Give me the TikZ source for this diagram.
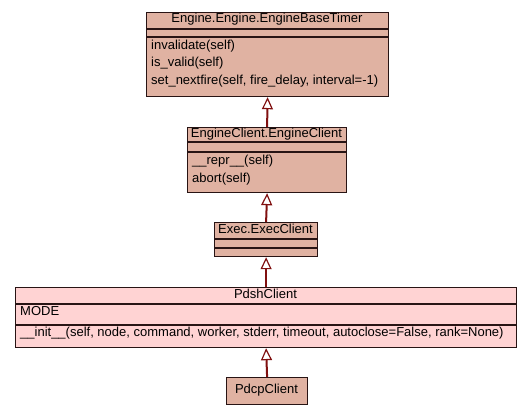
\documentclass[tikz,border=0pt]{standalone}
\usepackage{fontspec}
\setmainfont{Liberation Sans}
\usetikzlibrary{arrows.meta}
\definecolor{boxfill}{RGB}{224,178,162}
\definecolor{pinkfill}{RGB}{255,211,211}
\definecolor{edgecol}{RGB}{128,16,16}
\definecolor{bordercol}{RGB}{40,20,20}
\tikzset{
  cls/.style={draw=bordercol, line width=1.2pt, fill=boxfill, inner sep=0pt, anchor=north west},
  pcls/.style={cls, fill=pinkfill},
  divider/.style={draw=bordercol, line width=1.2pt},
  txt/.style={font=\fontsize{13}{15}\selectfont, inner sep=0pt, anchor=mid west},
  ttl/.style={font=\fontsize{13}{15}\selectfont, inner sep=0pt, anchor=mid},
  inh/.style={draw=edgecol, line width=2pt, -{Triangle[open, length=12pt, width=11pt, line width=1.2pt]}},
}
\begin{document}
\begin{tikzpicture}[x=1pt,y=-1pt]
\useasboundingbox (0,0) rectangle (531,416);
% Box 1
\node[cls, minimum width=242pt, minimum height=84pt] (b1) at (146,12) {};
\draw[divider] (146,29) -- (388,29);
\draw[divider] (146,37) -- (388,37);
\node[ttl] (b1t) at (267,20) {Engine.Engine.EngineBaseTimer};
\node[txt] (b1m1) at (151,47) {invalidate(self)};
\node[txt] (b1m2) at (151,64) {is\_valid(self)};
\node[txt] (b1m3) at (151,82) {set\_nextfire(self, fire\_delay, interval=-1)};
% Box 2
\node[cls, minimum width=159pt, minimum height=65pt] (b2) at (187,127) {};
\draw[divider] (187,142) -- (346,142);
\draw[divider] (187,152) -- (346,152);
\node[ttl] (b2t) at (266.5,134.5) {EngineClient.EngineClient};
\node[txt] (b2m1) at (192,162) {\_\_repr\_\_(self)};
\node[txt] (b2m2) at (192,180) {abort(self)};
% Box 3
\node[cls, minimum width=103pt, minimum height=34pt] (b3) at (214,222) {};
\draw[divider] (214,239) -- (317,239);
\draw[divider] (214,248) -- (317,248);
\node[ttl] (b3t) at (265.5,230.5) {Exec.ExecClient};
% Box 4
\node[pcls, minimum width=501pt, minimum height=60pt] (b4) at (15,287) {};
\draw[divider] (15,304) -- (516,304);
\draw[divider] (15,325) -- (516,325);
\node[ttl] (b4t) at (265.5,295.5) {PdshClient};
\node[txt] (b4a1) at (20,313) {MODE};
\node[txt] (b4m1) at (20,334) {\_\_init\_\_(self, node, command, worker, stderr, timeout, autoclose=False, rank=None)};
% Box 5
\node[cls, minimum width=81pt, minimum height=27pt] (b5) at (226,377) {};
\node[ttl] (b5t) at (266.5,390.5) {PdcpClient};
% Inheritance arrows
\draw[inh] (b2.north) -- (b1.south);
\draw[inh] (b3.north) -- (b2.south);
\draw[inh] (b4.north) -- (b3.south);
\draw[inh] (b5.north) -- (b4.south);
\end{tikzpicture}
\end{document}
